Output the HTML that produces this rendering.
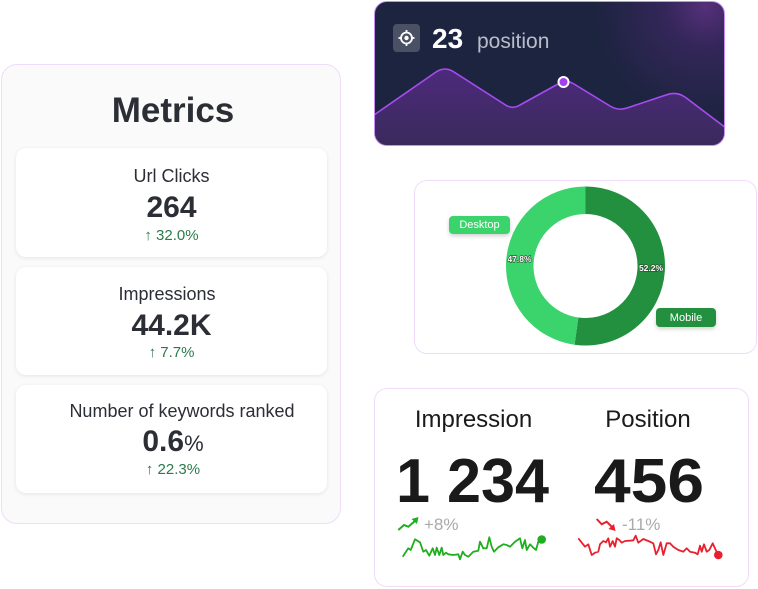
<!DOCTYPE html>
<html><head><meta charset="utf-8"><style>
html,body{margin:0;padding:0;background:#fff;}
body{width:758px;height:589px;position:relative;overflow:hidden;font-family:"Liberation Sans",sans-serif;}
.box{position:absolute;box-sizing:border-box;}
#left{left:1px;top:64px;width:340px;height:460px;background:#fafafa;border:1px solid #efdcf8;border-radius:16px;}
.inner{left:16px;width:311px;background:#fff;border-radius:10px;box-shadow:0 1px 4px rgba(0,0,0,0.09);}
#dark{left:374px;top:1px;width:351px;height:145px;border-radius:13px;border:1px solid #c98ef2;overflow:hidden;
 background:radial-gradient(circle at 330px 5px,#55307a 0px,rgba(70,40,110,0.55) 40px,rgba(29,36,64,0) 110px),#1d2440;}
#donut{left:414px;top:180px;width:343px;height:174px;border:1px solid #f0dcfa;border-radius:13px;background:#fff;}
#bottom{left:374px;top:388px;width:375px;height:199px;border:1px solid #f0dcfa;border-radius:13px;background:#fff;}
.lbl{position:absolute;box-sizing:border-box;border-radius:4px;color:#fff;font-size:11px;text-align:center;box-shadow:0 2px 4px rgba(0,0,0,0.18);}
svg{position:absolute;left:0;top:0;}
</style></head><body>
<div id="left" class="box"></div>
<div class="box inner" style="top:148px;height:109px;"></div>
<div class="box inner" style="top:267px;height:108px;"></div>
<div class="box inner" style="top:385px;height:108px;"></div>
<div id="dark" class="box"></div>
<div id="donut" class="box"></div>
<div id="bottom" class="box"></div>

<svg width="758" height="589" viewBox="0 0 758 589" xmlns="http://www.w3.org/2000/svg">
<defs>
 <clipPath id="dc"><rect x="375" y="2" width="349" height="143" rx="12"/></clipPath>
 <linearGradient id="fillg" x1="0" y1="0" x2="0" y2="1">
  <stop offset="0" stop-color="#4d2a7c"/>
  <stop offset="1" stop-color="#3a2a5c"/>
 </linearGradient>
</defs>
<g font-family="Liberation Sans, sans-serif" text-anchor="middle">
 <text x="173" y="122" font-size="35" font-weight="700" fill="#2c2e36">Metrics</text>
 <text x="171.5" y="182" font-size="18" fill="#2c2e36">Url Clicks</text>
 <text x="171.5" y="217" font-size="30" font-weight="700" fill="#2c2e36">264</text>
 <text x="171.5" y="240" font-size="15" fill="#2a7a4b">↑ 32.0%</text>
 <text x="167" y="300" font-size="18" fill="#2c2e36">Impressions</text>
 <text x="171.5" y="335" font-size="30" font-weight="700" fill="#2c2e36">44.2K</text>
 <text x="171.5" y="357" font-size="15" fill="#2a7a4b">↑ 7.7%</text>
 <text x="182" y="417" font-size="18" fill="#2c2e36">Number of keywords ranked</text>
 <text x="173" y="451" font-size="30" fill="#2c2e36"><tspan font-weight="700">0.6</tspan><tspan font-size="22">%</tspan></text>
 <text x="173" y="474" font-size="15" fill="#2a7a4b">↑ 22.3%</text>
</g>

<g clip-path="url(#dc)">
 <path d="M374,115 L436,72 Q445,66 454,72 L504,104 Q512,110 520,105 L558,84 Q566,79 574,84 L610,106 Q618,111 627,108 L666,95 Q676,91 685,97 L726,128 L726,146 L374,146 Z" fill="url(#fillg)"/>
 <path d="M374,115 L436,72 Q445,66 454,72 L504,104 Q512,110 520,105 L558,84 Q566,79 574,84 L610,106 Q618,111 627,108 L666,95 Q676,91 685,97 L726,128" fill="none" stroke="#a64cf0" stroke-width="1.6"/>
</g>
<circle cx="563.5" cy="82" r="5" fill="#a43ff0" stroke="#fff" stroke-width="2"/>
<rect x="393" y="24" width="27" height="28" rx="4" fill="#4a5164"/>
<g stroke="#fff" stroke-width="1.8" fill="none">
 <circle cx="406.5" cy="38" r="5.5"/>
 <line x1="406.5" y1="30" x2="406.5" y2="32.5"/><line x1="406.5" y1="43.5" x2="406.5" y2="46"/>
 <line x1="398.5" y1="38" x2="401" y2="38"/><line x1="412" y1="38" x2="414.5" y2="38"/>
</g>
<circle cx="406.5" cy="38" r="2.2" fill="#fff"/>
<text x="432" y="48" font-family="Liberation Sans, sans-serif" font-size="28" font-weight="700" fill="#fff">23</text>
<text x="477" y="48" font-family="Liberation Sans, sans-serif" font-size="21" fill="#b9bdc9">position</text>

<path d="M585.5,200.25 A65.75,65.75 0 1 1 576.44,331.12" fill="none" stroke="#22903e" stroke-width="27.5"/>
<path d="M576.44,331.12 A65.75,65.75 0 0 1 585.5,200.25" fill="none" stroke="#3bd46c" stroke-width="27.5"/>
<g font-family="Liberation Sans, sans-serif" font-size="8.5" font-weight="700" text-anchor="middle" fill="#fff" stroke="#2a4a30" stroke-width="1.2" paint-order="stroke">
 <text x="519.5" y="262">47.8%</text>
 <text x="651" y="271">52.2%</text>
</g>

<g font-family="Liberation Sans, sans-serif" fill="#1a1a1a">
 <text x="473.5" y="427" font-size="24" text-anchor="middle">Impression</text>
 <text x="648" y="427" font-size="24" text-anchor="middle">Position</text>
 <text x="396" y="502" font-size="62" font-weight="700" textLength="153" lengthAdjust="spacingAndGlyphs">1 234</text>
 <text x="594" y="502" font-size="62" font-weight="700" textLength="110" lengthAdjust="spacingAndGlyphs">456</text>
 <text x="424" y="530" font-size="17" fill="#aaaaaa">+8%</text>
 <text x="622" y="530" font-size="17" fill="#aaaaaa">-11%</text>
</g>
<polyline points="398.3,530 404,525 408.3,526.7 415,521" fill="none" stroke="#1fae1f" stroke-width="2"/>
<polygon points="411.5,519 418.5,517 417,524" fill="#1fae1f"/>
<polyline points="596.7,519 601.7,524.3 606.7,521.7 612,527" fill="none" stroke="#e8202e" stroke-width="2"/>
<polygon points="608.5,529 615.5,531 614,524" fill="#e8202e"/>

<polyline fill="none" stroke="#1fae1f" stroke-width="1.8" stroke-linejoin="round" points="402.7,556.7 408.3,548.3 410.7,550 415,539.3 420,542.3 423.3,551.7 426,550 429.3,555.7 432.7,548.3 435,555 436.7,547.7 439.3,555 441.7,547.7 443.3,555 446,552.7 448.3,554.3 453.3,555 458.3,554.3 460,559.3 462.7,551.7 465,555 468.3,556.7 473.3,551.7 478.3,550.7 480,541.7 483.3,548.3 486.7,548.3 489.3,537.3 491.7,546.7 494,551.7 498.3,547.3 503.3,544.3 506.7,545 510,546.7 515,541.7 520,538.3 522.3,548.3 525,540 526.7,550 530,544.3 533.3,547.7 536,550 538.3,541.7 541.7,539"/>
<circle cx="541.7" cy="539.5" r="4.3" fill="#1fae1f"/>
<polyline fill="none" stroke="#e8202e" stroke-width="1.8" stroke-linejoin="round" points="578.3,538.3 585,546.7 588.3,544.3 591.7,555 595,552.7 598.3,551.7 600,544.3 603.3,541 606,542.3 608.3,538.3 610,546.7 612.7,541 615,546.7 616.7,538.3 619.3,540 621.7,542.7 625,541 630,540.7 633.3,540.3 635.7,535.7 638.3,542.7 643.3,539 648.3,541 653.3,543.3 656,554.3 658.3,550 660.7,542.3 663.3,555 666.7,543.3 670,543.3 673.3,546.7 678.3,550 683.3,551.7 686.7,548.3 690,551.7 695,552.7 697.7,554.3 700,545.7 701.7,551.7 704,544.3 706.7,551.7 709.3,550 712.7,543.3 715.7,550 718.3,555"/>
<circle cx="718.3" cy="555" r="4.3" fill="#e8202e"/>
</svg>

<div class="lbl" style="left:449px;top:216px;width:61px;height:18px;line-height:19px;background:#3bd46c;">Desktop</div>
<div class="lbl" style="left:656px;top:308px;width:60px;height:19px;line-height:20px;background:#22903e;">Mobile</div>
</body></html>
